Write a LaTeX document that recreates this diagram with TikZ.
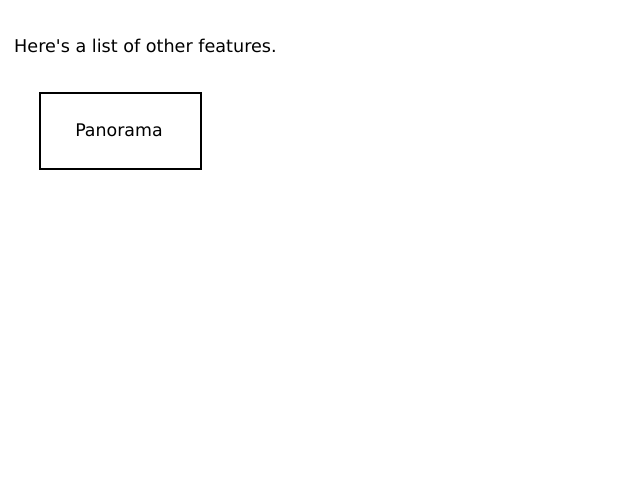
\documentclass[tikz,border=0pt]{standalone}
\usepackage{fontspec}
\setmainfont{DejaVu Sans}
\begin{document}
\begin{tikzpicture}[x=1pt,y=-1pt,
  lbl/.style={font=\fontsize{17.6}{20}\selectfont, inner sep=0pt},
  featbox/.style={draw=black, line width=2.8pt, minimum width=161pt, minimum height=76pt, inner sep=0pt, font=\fontsize{17.4}{20}\selectfont}]
\useasboundingbox (0,0) rectangle (640,480);
\node[lbl, anchor=base west] (title) at (14,52) {Here\textquotesingle s a list of other features.};
\node[featbox] (pano) at (120.5,131) {};
\node[font=\fontsize{17.4}{20}\selectfont, inner sep=0pt] (panolbl) at (119,130) {Panorama};
\end{tikzpicture}
\end{document}
